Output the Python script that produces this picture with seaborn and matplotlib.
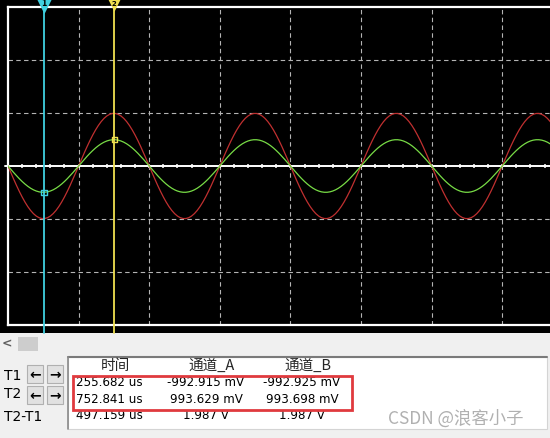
import numpy as np
import pandas as pd
import matplotlib
matplotlib.use("Agg")
import matplotlib.pyplot as plt
import matplotlib.transforms as mtransforms
from matplotlib.patches import Rectangle
import seaborn as sns

# signal (1 kHz sine, ~993 mV peak on both channels)
freq_hz = 1000.0
amp_a_v = 0.993
amp_b_v = 0.993
scale_a_v_per_div = 1.0
scale_b_v_per_div = 2.0
time_per_div_us = 500.0

# cursor readout table
cursor_names = ["T1", "T2", "T2-T1"]
cursor_times = ["255.682 us", "752.841 us", "497.159 us"]
chan_a_vals = ["-992.915 mV", "993.629 mV", "1.987 V"]
chan_b_vals = ["-992.925 mV", "993.698 mV", "1.987 V"]
headers = ["时间", "通道_A", "通道_B"]
cursor_t_us = [255.682, 752.841]

W, H = 550, 439
sns.set_theme(style="dark")
plt.rcParams["font.family"] = ["DejaVu Sans", "Noto Sans CJK SC"]

fig = plt.figure(figsize=(W / 100, H / 100), dpi=100, facecolor="#f0f0f0")


def fx(x):
    return x / W


def fy(y):
    return 1 - y / H


# black scope screen
fig.patches.append(Rectangle((0, fy(334)), 1, 334 / H, transform=fig.transFigure,
                             facecolor="black", edgecolor="none", zorder=-5))

# scope axes: 10 x 6 divisions, cropped at right edge of screenshot
div_px = 70.6
ax = fig.add_axes([fx(8), fy(326), 10 * div_px / W, 318 / H])
ax.set_zorder(2)
ax.set_facecolor("black")
ax.set_xlim(0, 10)
ax.set_ylim(-3, 3)

for x in range(1, 10):
    ax.axvline(x, color="#b4b4b4", lw=0.8, ls=(0, (4, 3)), zorder=1)
for y in [-2, -1, 1, 2]:
    ax.axhline(y, color="#b4b4b4", lw=0.8, ls=(0, (4, 3)), zorder=1)

# centre axis with minor ticks
ax.plot([-0.04, 10], [0, 0], color="white", lw=1.4, clip_on=False, zorder=2)
minor = np.arange(0.2, 10, 0.2)
ax.vlines(minor, -0.045, 0.045, color="white", lw=1.1, zorder=2)

for s in ["left", "top", "bottom"]:
    ax.spines[s].set_color("white")
    ax.spines[s].set_linewidth(1.6)
ax.spines["right"].set_visible(False)
ax.set_xticks([])
ax.set_yticks([])

# traces
t_us = np.arange(0, 10 * time_per_div_us + 1, 20.0)
sig_a = -amp_a_v * np.sin(2 * np.pi * freq_hz * t_us * 1e-6)
sig_b = -amp_b_v * np.sin(2 * np.pi * freq_hz * t_us * 1e-6)
df = pd.DataFrame({"div": t_us / time_per_div_us,
                   "A": sig_a / scale_a_v_per_div,
                   "B": sig_b / scale_b_v_per_div})
sns.lineplot(data=df, x="div", y="A", color="#c03030", lw=0.9, ax=ax, zorder=3)
sns.lineplot(data=df, x="div", y="B", color="#78dc46", lw=0.9, ax=ax, zorder=4)
ax.set_xlabel("")
ax.set_ylabel("")

# cursors
cursor_cols = ["#40d0e0", "#f0e050"]
trans = mtransforms.blended_transform_factory(ax.transData, ax.transAxes)
for i, (tc, col) in enumerate(zip(cursor_t_us, cursor_cols)):
    xd = tc / time_per_div_us
    ax.plot([xd, xd], [-0.026, 1.026], color=col, lw=1.3, transform=trans,
            clip_on=False, zorder=5)
    ax.scatter([xd], [1.009], marker="v", s=190 if i == 0 else 110, color=col,
               transform=trans, clip_on=False, zorder=6, linewidths=0)
    ax.text(xd, 1.014, str(i + 1), transform=trans, ha="center", va="center",
            fontsize=5.5 if i == 0 else 5, color="black", fontweight="bold", zorder=7)
    yb = -amp_b_v * np.sin(2 * np.pi * freq_hz * tc * 1e-6) / scale_b_v_per_div
    ax.scatter([xd], [yb], marker="s", s=16, facecolor="none", edgecolor=col,
               linewidths=1.0, zorder=8)

# scrollbar row
fig.text(fx(7), fy(344), "<", fontsize=9, color="#606060", ha="center", va="center",
         fontweight="bold")
fig.patches.append(Rectangle((fx(18), fy(352)), 20 / W, 14 / H, transform=fig.transFigure,
                             facecolor="#cdcdcd", edgecolor="none"))

# cursor labels and arrow buttons
for name, yc in zip(cursor_names, [376, 394, 417]):
    fig.text(fx(4), fy(yc), name, fontsize=10, ha="left", va="center", color="black")
for y0 in [366, 387]:
    for x0 in [27, 47]:
        fig.patches.append(Rectangle((fx(x0), fy(y0 + 18)), 16 / W, 18 / H,
                                     transform=fig.transFigure, facecolor="#e1e1e1",
                                     edgecolor="#b0b0b0", lw=0.8))
        fig.text(fx(x0 + 8), fy(y0 + 9), "←" if x0 == 27 else "→", fontsize=10,
                 fontweight="bold", ha="center", va="center", color="black")

# readout table
fig.patches.append(Rectangle((fx(68), fy(430)), 479 / W, 72 / H, transform=fig.transFigure,
                             facecolor="white", edgecolor="#d4d4d4", lw=0.8))
fig.lines.append(plt.Line2D([fx(68), fx(547)], [fy(358), fy(358)], transform=fig.transFigure,
                            color="#7a7a7a", lw=1.5))
fig.lines.append(plt.Line2D([fx(68), fx(68)], [fy(358), fy(430)], transform=fig.transFigure,
                            color="#8a8a8a", lw=1.2))

col_x = [109, 206, 302]
head_x = [115, 212, 308]
for hx, htxt in zip(head_x, headers):
    fig.text(fx(hx), fy(366), htxt, fontsize=10.5, ha="center", va="center",
             family=["Noto Sans CJK SC", "DejaVu Sans"])
for yc, vals in zip([383, 400, 416], zip(cursor_times, chan_a_vals, chan_b_vals)):
    for cx, v in zip(col_x, vals):
        fig.text(fx(cx), fy(yc), v, fontsize=8.6, ha="center", va="center", color="black")

fig.patches.append(Rectangle((fx(73), fy(411)), 279 / W, 34 / H, transform=fig.transFigure,
                             facecolor="none", edgecolor="#e03a3e", lw=2.0, zorder=10))

# watermark
fig.text(fx(388), fy(419), "CSDN @浪客小子", fontsize=12.5, color="#a8a8a8", alpha=0.9,
         ha="left", va="center", family=["Noto Sans CJK SC", "DejaVu Sans"])

fig.savefig("out.png", dpi=100, facecolor=fig.get_facecolor())
